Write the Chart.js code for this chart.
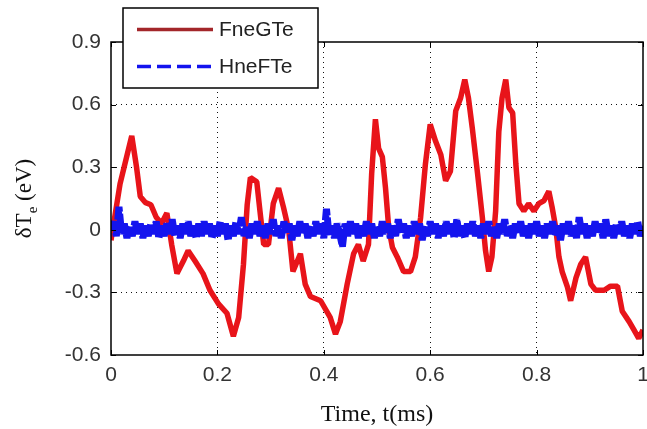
<!DOCTYPE html>
<html>
<head>
<meta charset="utf-8">
<script src="https://cdn.jsdelivr.net/npm/chart.js@4"></script>
<style>
  html, body { margin: 0; padding: 0; background: #fff; }
  #wrap { width: 647px; height: 429px; position: relative; }
</style>
</head>
<body>
<div id="wrap"><canvas id="c" width="647" height="429"></canvas></div>
<script>
// ---- data ----
const seriesNames = ['FneGTe', 'HneFTe'];
const xTitle = 'Time, t(ms)';
const yTitleMain = 'δT';
const yTitleSub = 'e';
const yTitleTail = ' (eV)';
const xTickValues = [0, 0.2, 0.4, 0.6, 0.8, 1];
const xTickLabels = ['0', '0.2', '0.4', '0.6', '0.8', '1'];
const yTickValues = [-0.6, -0.3, 0, 0.3, 0.6, 0.9];
const yTickLabels = ['-0.6', '-0.3', '0', '0.3', '0.6', '0.9'];

const tRed = [0, 0.017, 0.039, 0.048, 0.055, 0.065, 0.075, 0.085, 0.095, 0.105,
  0.114, 0.124, 0.136, 0.145, 0.158, 0.173, 0.186, 0.202, 0.218, 0.23,
  0.24, 0.249, 0.256, 0.262, 0.274, 0.28, 0.287, 0.296, 0.305, 0.315,
  0.324, 0.334, 0.342, 0.356, 0.365, 0.375, 0.394, 0.412, 0.422, 0.431,
  0.444, 0.456, 0.465, 0.474, 0.484, 0.49, 0.497, 0.503, 0.51, 0.516,
  0.522, 0.529, 0.538, 0.55, 0.563, 0.572, 0.582, 0.591, 0.60, 0.61,
  0.62, 0.629, 0.638, 0.648, 0.657, 0.665, 0.672, 0.679, 0.689, 0.698,
  0.704, 0.71, 0.716, 0.723, 0.729, 0.735, 0.742, 0.748, 0.755, 0.761,
  0.767, 0.776, 0.785, 0.795, 0.804, 0.814, 0.823, 0.829, 0.836, 0.842,
  0.848, 0.858, 0.864, 0.874, 0.883, 0.892, 0.902, 0.911, 0.927, 0.939,
  0.952, 0.961, 0.974, 0.983, 0.992, 1.0];
const vRed = [-0.05, 0.22, 0.45, 0.30, 0.16, 0.13, 0.12, 0.06, 0.03, 0.08,
  -0.07, -0.21, -0.15, -0.10, -0.15, -0.21, -0.29, -0.355, -0.40, -0.51,
  -0.42, -0.165, 0.12, 0.25, 0.23, 0.09, -0.07, -0.07, 0.125, 0.20,
  0.11, 0.0, -0.20, -0.115, -0.26, -0.32, -0.34, -0.42, -0.50, -0.44,
  -0.26, -0.115, -0.07, -0.15, -0.07, 0.27, 0.53, 0.39, 0.35, 0.20,
  0.01, -0.085, -0.13, -0.20, -0.20, -0.13, 0.06, 0.315, 0.505, 0.425,
  0.36, 0.235, 0.28, 0.57, 0.63, 0.72, 0.63, 0.49, 0.27, 0.06,
  -0.10, -0.20, -0.13, 0.09, 0.47, 0.63, 0.72, 0.585, 0.56, 0.315,
  0.125, 0.09, 0.125, 0.09, 0.125, 0.14, 0.185, 0.11, 0.01, -0.13,
  -0.2, -0.275, -0.34, -0.23, -0.165, -0.13, -0.26, -0.29, -0.29, -0.27,
  -0.27, -0.39, -0.44, -0.48, -0.52, -0.48];

// blue series sampled every 0.005 ms from 0 to 1
const blueStep = 0.005;
const vBlue = [
  0.00, 0.04, -0.03, 0.11, -0.02, 0.03, -0.04, 0.02, -0.03, 0.04, -0.02, 0.03, -0.04, 0.02, -0.03, 0.03, -0.02, 0.04, -0.04, 0.02,
  -0.03, 0.03, -0.02, 0.05, -0.03, 0.02, -0.04, 0.03, -0.02, 0.04, -0.03, 0.02, -0.04, 0.03, -0.03, 0.04, -0.02, 0.03, -0.04, 0.02,
  -0.03, 0.04, -0.02, 0.03, -0.05, 0.02, -0.03, 0.04, -0.02, 0.06, -0.03, 0.02, -0.04, 0.03, -0.02, 0.04, -0.03, 0.02, -0.04, 0.03,
  -0.02, 0.05, -0.03, 0.02, -0.04, 0.04, -0.02, 0.03, -0.05, 0.02, -0.03, 0.04, -0.02, 0.03, -0.04, 0.02, -0.03, 0.04, -0.02, 0.03,
  -0.04, 0.10, -0.03, 0.02, -0.04, 0.03, -0.02, -0.08, 0.03, -0.03, 0.04, -0.02, 0.03, -0.04, 0.02, -0.03, 0.04, -0.02, 0.03, -0.04,
  0.02, -0.03, 0.04, -0.02, 0.03, -0.04, 0.02, -0.03, 0.05, -0.02, 0.03, -0.04, 0.02, -0.03, 0.04, -0.02, 0.03, -0.05, 0.02, -0.03,
  0.04, -0.02, 0.03, -0.04, 0.02, -0.03, 0.04, -0.02, 0.03, -0.04, 0.05, -0.03, 0.02, -0.04, 0.03, -0.02, 0.04, -0.03, 0.02, -0.04,
  0.03, -0.02, 0.04, -0.03, 0.02, -0.04, 0.03, -0.02, 0.05, -0.03, 0.02, -0.04, 0.03, -0.02, 0.04, -0.03, 0.02, -0.04, 0.03, -0.02,
  0.04, -0.03, 0.02, -0.04, 0.03, -0.02, 0.04, -0.03, 0.02, -0.05, 0.03, -0.02, 0.04, -0.03, 0.02, -0.04, 0.06, -0.02, 0.03, -0.04,
  0.02, -0.03, 0.04, -0.02, 0.03, -0.04, 0.05, -0.03, 0.02, -0.04, 0.03, -0.02, 0.04, -0.03, 0.02, -0.04, 0.03, -0.02, 0.04, -0.03,
  0.02];

// ---- styles ----
const RED = '#e8141a';
const RED_LEG = '#a3262a';
const BLUE = '#1414ee';
const TICK_FONT = '"Liberation Sans", Arial, sans-serif';
const SERIF = '"Liberation Serif", "Times New Roman", serif';

const redPts = tRed.map((t, i) => ({ x: t, y: vRed[i] }));
const bluePts = vBlue.map((v, i) => ({ x: +(i * blueStep).toFixed(4), y: v }));

const frameLegendPlugin = {
  id: 'frameLegend',
  afterDatasetsDraw(chart) {
    const { ctx, chartArea: a, scales } = chart;
    ctx.save();
    ctx.strokeStyle = '#000';
    ctx.lineWidth = 1.5;
    ctx.setLineDash([]);
    ctx.strokeRect(a.left, a.top, a.right - a.left, a.bottom - a.top);
    ctx.lineWidth = 1;
    ctx.beginPath();
    xTickValues.forEach(v => {
      const x = Math.round(scales.x.getPixelForValue(v)) + 0.5;
      ctx.moveTo(x, a.bottom); ctx.lineTo(x, a.bottom - 5);
      ctx.moveTo(x, a.top); ctx.lineTo(x, a.top + 5);
    });
    yTickValues.forEach(v => {
      const y = Math.round(scales.y.getPixelForValue(v)) + 0.5;
      ctx.moveTo(a.left, y); ctx.lineTo(a.left + 5, y);
      ctx.moveTo(a.right, y); ctx.lineTo(a.right - 5, y);
    });
    ctx.stroke();
    ctx.restore();
  },
  afterDraw(chart) {
    const { ctx, chartArea: a } = chart;
    ctx.save();
    const bx = 123, by = 8, bw = 195, bh = 80;
    ctx.fillStyle = '#fff';
    ctx.fillRect(bx, by, bw, bh);
    ctx.strokeStyle = '#000';
    ctx.lineWidth = 1.5;
    ctx.strokeRect(bx, by, bw, bh);
    const ds = chart.data.datasets;
    const rows = [{ y: 29.5, color: RED_LEG, dash: [], lw: 3.5 }, { y: 66.5, color: BLUE, dash: [14, 6], lw: 3.5 }];
    rows.forEach((r, i) => {
      ctx.beginPath();
      ctx.strokeStyle = r.color;
      ctx.lineWidth = r.lw;
      ctx.setLineDash(r.dash);
      ctx.moveTo(137, r.y); ctx.lineTo(213, r.y);
      ctx.stroke();
      ctx.setLineDash([]);
      ctx.fillStyle = '#222';
      ctx.font = '21px ' + TICK_FONT;
      ctx.textBaseline = 'middle';
      ctx.textAlign = 'left';
      ctx.fillText(ds[i].label, 219, r.y + 1);
    });
    ctx.translate(24, (a.top + a.bottom) / 2);
    ctx.rotate(-Math.PI / 2);
    ctx.fillStyle = '#111';
    ctx.textBaseline = 'alphabetic';
    ctx.textAlign = 'left';
    const fMain = '23px ' + SERIF, fSub = '15px ' + SERIF;
    ctx.font = fMain;
    const w1 = ctx.measureText(yTitleMain).width;
    const w3 = ctx.measureText(yTitleTail).width;
    ctx.font = fSub;
    const w2 = ctx.measureText(yTitleSub).width;
    let x0 = -(w1 + w2 + w3) / 2;
    const base = 7;
    ctx.font = fMain;
    ctx.fillText(yTitleMain, x0, base);
    ctx.font = fSub;
    ctx.fillText(yTitleSub, x0 + w1, base + 6);
    ctx.font = fMain;
    ctx.fillText(yTitleTail, x0 + w1 + w2, base);
    ctx.restore();
  }
};

const gridColor = (min, max) => (c) => {
  const v = c.tick && c.tick.value;
  return (Math.abs(v - min) < 1e-9 || Math.abs(v - max) < 1e-9) ? 'rgba(0,0,0,0)' : '#111';
};

new Chart(document.getElementById('c'), {
  type: 'line',
  data: {
    datasets: [
      { label: seriesNames[0], data: redPts, borderColor: RED, borderWidth: 5.5,
        borderJoinStyle: 'bevel', pointRadius: 0, tension: 0, order: 1, fill: false },
      { label: seriesNames[1], data: bluePts, borderColor: BLUE, borderWidth: 7,
        borderJoinStyle: 'bevel', borderDash: [18, 2], pointRadius: 0, tension: 0, order: 0, fill: false }
    ]
  },
  options: {
    responsive: false,
    animation: false,
    devicePixelRatio: 1,
    layout: { padding: { left: 0, right: 4, top: 42, bottom: 0 } },
    plugins: { legend: { display: false }, tooltip: { enabled: false } },
    scales: {
      x: {
        type: 'linear', min: 0, max: 1,
        afterBuildTicks: s => { s.ticks = xTickValues.map(v => ({ value: v })); },
        afterFit: s => { s.height = 74; s.paddingLeft = 0; s.paddingRight = 0; },
        ticks: {
          callback: (v) => xTickLabels[xTickValues.findIndex(t => Math.abs(t - v) < 1e-9)],
          font: { family: TICK_FONT, size: 21 }, color: '#333', padding: 8,
          maxRotation: 0, autoSkip: false
        },
        grid: { color: gridColor(0, 1), lineWidth: 1, drawTicks: false },
        border: { display: false, dash: [1, 4] },
        title: { display: true, text: xTitle, font: { family: SERIF, size: 24 }, color: '#111', padding: { top: 2, bottom: 0 } }
      },
      y: {
        type: 'linear', min: -0.6, max: 0.9,
        afterBuildTicks: s => { s.ticks = yTickValues.map(v => ({ value: v })); },
        afterFit: s => { s.width = 111; s.paddingTop = 0; s.paddingBottom = 0; },
        ticks: {
          callback: (v) => yTickLabels[yTickValues.findIndex(t => Math.abs(t - v) < 1e-9)],
          font: { family: TICK_FONT, size: 21 }, color: '#333', padding: 10, autoSkip: false
        },
        grid: { color: gridColor(-0.6, 0.9), lineWidth: 1, drawTicks: false },
        border: { display: false, dash: [1, 4] }
      }
    }
  },
  plugins: [frameLegendPlugin]
});
</script>
</body>
</html>
